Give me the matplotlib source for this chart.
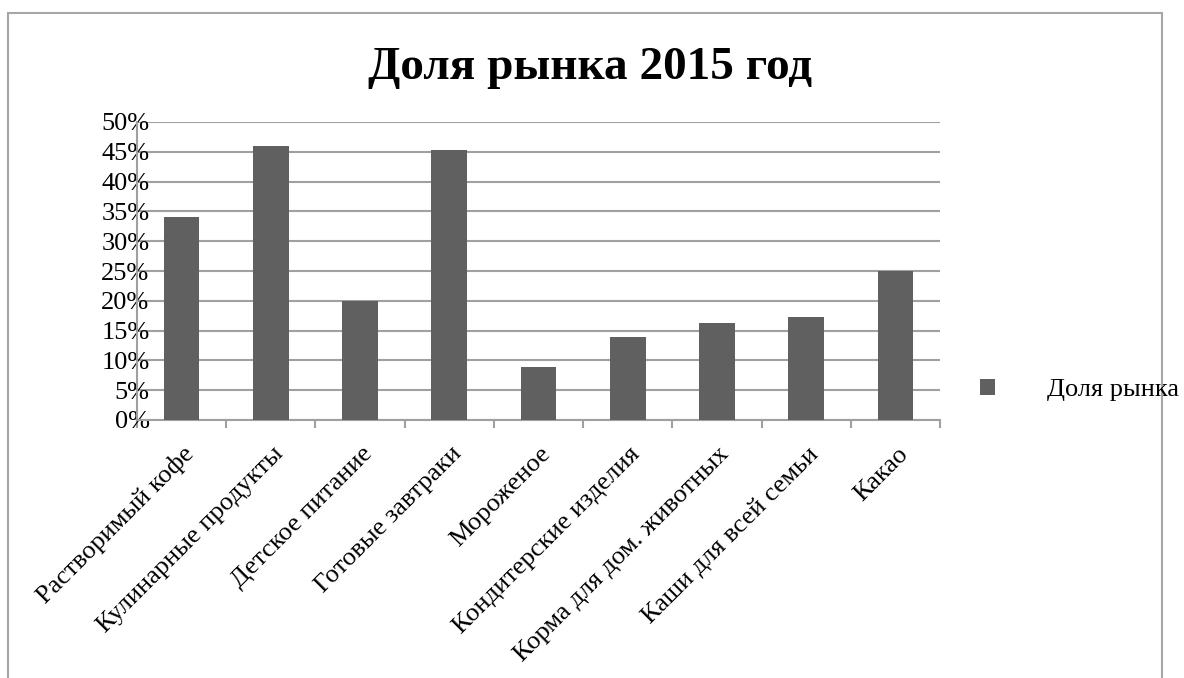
import matplotlib
matplotlib.use("Agg")
import matplotlib.pyplot as plt
from matplotlib.patches import Rectangle
from matplotlib.ticker import FixedLocator, PercentFormatter
from matplotlib.transforms import ScaledTranslation

categories = [
    "Растворимый кофе",
    "Кулинарные продукты",
    "Детское питание",
    "Готовые завтраки",
    "Мороженое",
    "Кондитерские изделия",
    "Корма для дом. животных",
    "Каши для всей семьи",
    "Какао",
]
shares = [34.0, 46.0, 20.0, 45.3, 8.9, 14.0, 16.3, 17.3, 25.0]
series_name = "Доля рынка"
title = "Доля рынка 2015 год"

W, H = 1184, 678
plt.rcParams["font.family"] = ["Liberation Serif", "DejaVu Serif"]

fig = plt.figure(figsize=(W / 100, H / 100), dpi=100)
fig.patch.set_facecolor("white")

# outer chart border (runs off the bottom edge, as in the source)
fig.patches.append(Rectangle((8 / W, -0.05), (1162 - 8) / W, 1.05 - 13 / H,
                             transform=fig.transFigure, fill=False,
                             edgecolor="#a6a6a6", linewidth=1.5))

ax = fig.add_axes([137 / W, (H - 420) / H, (940 - 137) / W, (420 - 122) / H])
x = list(range(len(categories)))
bars = ax.bar(x, shares, width=0.4, color="#606060", zorder=3, label=series_name)

ax.set_xlim(-0.5, len(categories) - 0.5)
ax.set_ylim(0, 50)
ax.set_yticks(range(0, 51, 5))
ax.yaxis.set_major_formatter(PercentFormatter(decimals=0))
ax.grid(axis="y", color="#a0a0a0", linewidth=1.5, zorder=0)

for side in ("top", "right"):
    ax.spines[side].set_visible(False)
for side in ("left", "bottom"):
    ax.spines[side].set_color("#a0a0a0")
    ax.spines[side].set_linewidth(1.5)

ax.tick_params(axis="y", length=0, pad=-9, labelsize=19)
ax.set_xticks(x)
ax.set_xticklabels(categories, rotation=45, ha="right", va="center",
                   rotation_mode="anchor", fontsize=19)
ax.tick_params(axis="x", which="major", length=0, pad=22)
shift = ScaledTranslation(9 / 100, 0, fig.dpi_scale_trans)
for lbl in ax.get_xticklabels():
    lbl.set_transform(lbl.get_transform() + shift)
ax.xaxis.set_minor_locator(FixedLocator([i - 0.5 for i in range(len(categories) + 1)]))
ax.tick_params(axis="x", which="minor", length=6, width=1.5, color="#a0a0a0")

fig.text(590 / W, 1 - 68 / H, title, ha="center", va="center",
         fontsize=34, fontweight="bold")

fig.legend(handles=[bars], labels=[series_name], loc="center left",
           bbox_to_anchor=(980 / W, 1 - 390 / H), frameon=False, fontsize=19,
           handlelength=0.55, handleheight=0.55, handletextpad=2.0,
           borderpad=0, borderaxespad=0)

fig.savefig("out.png", dpi=100, facecolor="white")
